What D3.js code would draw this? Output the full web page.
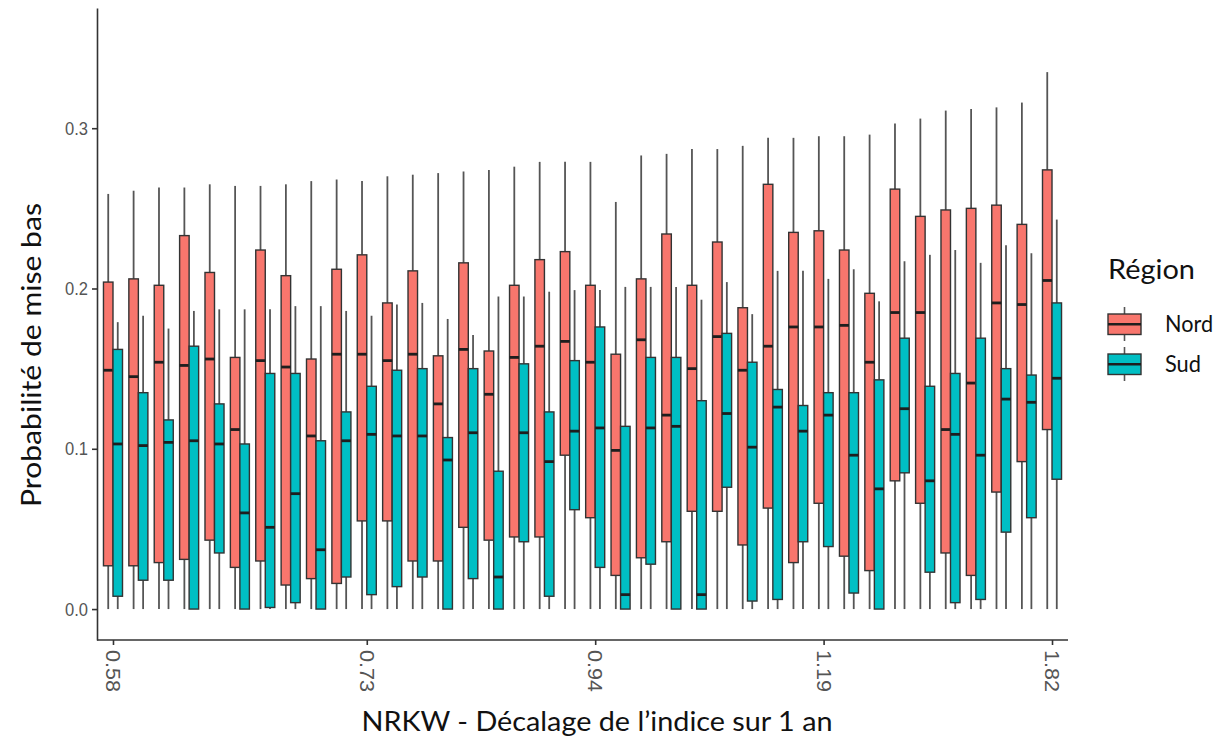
<!DOCTYPE html>
<html>
<head>
<meta charset="utf-8">
<script src="https://cdn.jsdelivr.net/npm/d3@7/dist/d3.min.js"></script>
<style>
  html, body { margin: 0; padding: 0; background: #ffffff; }
  svg { display: block; }
</style>
</head>
<body>
<svg id="chart" width="1222" height="746"></svg>
<script>
// Category positions along the NRKW index (38 classes)
const categories = [1,2,3,4,5,6,7,8,9,10,11,12,13,14,15,16,17,18,19,20,21,22,23,24,25,26,27,28,29,30,31,32,33,34,35,36,37,38];
const tickCategories = [1, 11, 20, 29, 38];
const tickLabels = ["0.58", "0.73", "0.94", "1.19", "1.82"];
const regions = ["Nord", "Sud"];
const regionColors = ["#F8766D", "#00BFC4"];
const yTicks = [0, 0.1, 0.2, 0.3];

// Nord: five-number summaries per category
const nordLow  = [0,0,0,0,0,0,0,0,0,0,0,0,0,0,0,0,0,0,0,0,0,0,0,0,0,0,0,0,0,0,0,0,0,0,0,0,0,0];
const nordQ1   = [0.027,0.027,0.029,0.031,0.043,0.026,0.030,0.015,0.019,0.016,0.055,0.055,0.030,0.030,0.051,0.043,0.045,0.045,0.096,0.057,0.021,0.032,0.042,0.061,0.061,0.040,0.063,0.029,0.066,0.033,0.024,0.080,0.066,0.035,0.021,0.073,0.092,0.112];
const nordMed  = [0.149,0.145,0.154,0.152,0.156,0.112,0.155,0.151,0.108,0.159,0.159,0.155,0.159,0.128,0.162,0.134,0.157,0.164,0.167,0.154,0.099,0.168,0.121,0.150,0.170,0.149,0.164,0.176,0.176,0.177,0.154,0.185,0.185,0.112,0.141,0.191,0.190,0.205];
const nordQ3   = [0.204,0.206,0.202,0.233,0.210,0.157,0.224,0.208,0.156,0.212,0.221,0.191,0.211,0.158,0.216,0.161,0.202,0.218,0.223,0.202,0.159,0.206,0.234,0.202,0.229,0.188,0.265,0.235,0.236,0.224,0.197,0.262,0.245,0.249,0.250,0.252,0.240,0.274];
const nordHigh = [0.259,0.261,0.263,0.263,0.265,0.264,0.264,0.265,0.267,0.268,0.267,0.270,0.271,0.272,0.273,0.274,0.276,0.279,0.279,0.279,0.254,0.283,0.284,0.287,0.287,0.289,0.294,0.294,0.295,0.295,0.296,0.303,0.306,0.311,0.312,0.313,0.316,0.335];

// Sud: five-number summaries per category
const sudLow  = [0,0,0,0,0,0,0,0,0,0,0,0,0,0,0,0,0,0,0,0,0,0,0,0,0,0,0,0,0,0,0,0,0,0,0,0,0,0];
const sudQ1   = [0.008,0.018,0.018,0.000,0.035,0.000,0.001,0.004,0.000,0.020,0.009,0.014,0.020,0.000,0.019,0.000,0.042,0.008,0.062,0.026,0.000,0.028,0.000,0.000,0.076,0.005,0.006,0.042,0.039,0.010,0.000,0.085,0.023,0.004,0.006,0.048,0.057,0.081];
const sudMed  = [0.103,0.102,0.104,0.105,0.103,0.060,0.051,0.072,0.037,0.105,0.109,0.108,0.108,0.093,0.110,0.020,0.110,0.092,0.111,0.113,0.009,0.113,0.114,0.009,0.122,0.101,0.126,0.111,0.121,0.096,0.075,0.125,0.080,0.109,0.096,0.131,0.129,0.144];
const sudQ3   = [0.162,0.135,0.118,0.164,0.128,0.103,0.147,0.147,0.105,0.123,0.139,0.149,0.150,0.107,0.150,0.086,0.153,0.123,0.155,0.176,0.114,0.157,0.157,0.130,0.172,0.154,0.137,0.127,0.135,0.135,0.143,0.169,0.139,0.147,0.169,0.150,0.146,0.191];
const sudHigh = [0.179,0.183,0.175,0.186,0.187,0.187,0.187,0.189,0.189,0.186,0.183,0.190,0.191,0.181,0.171,0.195,0.195,0.198,0.199,0.199,0.201,0.201,0.201,0.193,0.204,0.184,0.211,0.211,0.206,0.212,0.192,0.217,0.221,0.224,0.216,0.227,0.222,0.243];

const svg = d3.select("#chart");

const x = d3.scalePoint().domain(categories).range([97, 1068]).padding(0.63);
const y = d3.scaleLinear().domain([-0.0193, 0.375]).range([640, 8]);
const dodge = d3.scaleBand().domain(regions).range([-x.step() * 0.375, x.step() * 0.375]);

const series = [
  { region: "Nord", low: nordLow, q1: nordQ1, med: nordMed, q3: nordQ3, high: nordHigh },
  { region: "Sud",  low: sudLow,  q1: sudQ1,  med: sudMed,  q3: sudQ3,  high: sudHigh }
];

const boxes = [];
series.forEach((s, si) => {
  categories.forEach((c, i) => {
    boxes.push({ cat: c, region: s.region, color: regionColors[si],
      low: s.low[i], q1: s.q1[i], med: s.med[i], q3: s.q3[i], high: s.high[i] });
  });
});

const plot = svg.append("g");
const bw = dodge.bandwidth();

const g = plot.selectAll("g.box").data(boxes).join("g").attr("class", "box")
  .attr("transform", d => `translate(${x(d.cat) + dodge(d.region) + bw / 2},0)`);

// whiskers
g.append("line")
  .attr("x1", 0).attr("x2", 0)
  .attr("y1", d => y(d.q3)).attr("y2", d => y(d.high))
  .attr("stroke", "#555555").attr("stroke-width", 1.8);
g.append("line")
  .attr("x1", 0).attr("x2", 0)
  .attr("y1", d => y(d.q1)).attr("y2", d => y(d.low))
  .attr("stroke", "#555555").attr("stroke-width", 1.8);

// interquartile boxes
g.append("rect")
  .attr("x", -bw / 2).attr("width", bw)
  .attr("y", d => y(d.q3)).attr("height", d => y(d.q1) - y(d.q3))
  .attr("fill", d => d.color)
  .attr("stroke", "#333333").attr("stroke-width", 1.4);

// medians
g.append("line")
  .attr("x1", -bw / 2).attr("x2", bw / 2)
  .attr("y1", d => y(d.med)).attr("y2", d => y(d.med))
  .attr("stroke", "#1e1e1e").attr("stroke-width", 2.8);

// axes
const labelMap = new Map(tickCategories.map((c, i) => [c, tickLabels[i]]));

const xAxis = svg.append("g")
  .attr("transform", "translate(0,640)")
  .call(d3.axisBottom(x).tickValues(tickCategories).tickFormat(d => labelMap.get(d)).tickSize(5).tickSizeOuter(0));
xAxis.select(".domain").attr("d", "M97,0H1068").attr("stroke", "#333333").attr("stroke-width", 1.6);
xAxis.selectAll(".tick line").attr("stroke", "#333333").attr("stroke-width", 1.6);
xAxis.selectAll(".tick text")
  .attr("transform", "rotate(90)")
  .attr("x", 10).attr("y", 0).attr("dy", "0.36em")
  .attr("text-anchor", "start")
  .attr("fill", "#555555")
  .attr("font-family", "'Liberation Sans', Arial, sans-serif")
  .attr("font-size", 20)
  .attr("textLength", 42).attr("lengthAdjust", "spacingAndGlyphs");

const yAxis = svg.append("g")
  .attr("transform", "translate(97,0)")
  .call(d3.axisLeft(y).tickValues(yTicks).tickFormat(d3.format(".1f")).tickSize(5).tickSizeOuter(0));
yAxis.select(".domain").attr("stroke", "#333333").attr("stroke-width", 1.6);
yAxis.selectAll(".tick line").attr("stroke", "#333333").attr("stroke-width", 1.6);
yAxis.selectAll(".tick text")
  .attr("x", -9)
  .attr("fill", "#555555")
  .attr("font-family", "'Liberation Sans', Arial, sans-serif")
  .attr("font-size", 19)
  .attr("textLength", 23).attr("lengthAdjust", "spacingAndGlyphs");

// axis titles
svg.append("text")
  .attr("transform", "translate(41,355) rotate(-90)")
  .attr("text-anchor", "middle")
  .attr("font-family", "Lato, 'Open Sans', sans-serif")
  .attr("font-size", 26)
  .attr("fill", "#111111")
  .attr("textLength", 304).attr("lengthAdjust", "spacingAndGlyphs")
  .text("Probabilité de mise bas");

svg.append("text")
  .attr("x", 597).attr("y", 731)
  .attr("text-anchor", "middle")
  .attr("font-family", "Lato, 'Open Sans', sans-serif")
  .attr("font-size", 26)
  .attr("fill", "#111111")
  .attr("textLength", 471).attr("lengthAdjust", "spacingAndGlyphs")
  .text("NRKW - Décalage de l’indice sur 1 an");

// legend
const legend = svg.append("g");
legend.append("text")
  .attr("x", 1108).attr("y", 279)
  .attr("font-family", "Lato, 'Open Sans', sans-serif")
  .attr("font-size", 27)
  .attr("fill", "#111111")
  .attr("textLength", 87).attr("lengthAdjust", "spacingAndGlyphs")
  .text("Région");

const keyTop = [314, 354];
const labelLen = [48, 36];
regions.forEach((r, i) => {
  const k = legend.append("g").attr("transform", `translate(1108,${keyTop[i]})`);
  k.append("line").attr("x1", 16.5).attr("x2", 16.5).attr("y1", -7).attr("y2", 27)
    .attr("stroke", "#555555").attr("stroke-width", 1.6);
  k.append("rect").attr("x", 0).attr("y", 0).attr("width", 33).attr("height", 20.5)
    .attr("fill", regionColors[i]).attr("stroke", "#333333").attr("stroke-width", 1.4);
  k.append("line").attr("x1", 0).attr("x2", 33).attr("y1", 10.25).attr("y2", 10.25)
    .attr("stroke", "#1e1e1e").attr("stroke-width", 2.4);
  legend.append("text")
    .attr("x", 1165).attr("y", keyTop[i] + 18)
    .attr("font-family", "Lato, 'Open Sans', sans-serif")
    .attr("font-size", 23)
    .attr("fill", "#111111")
    .attr("textLength", labelLen[i]).attr("lengthAdjust", "spacingAndGlyphs")
    .text(r);
});
</script>
</body>
</html>
